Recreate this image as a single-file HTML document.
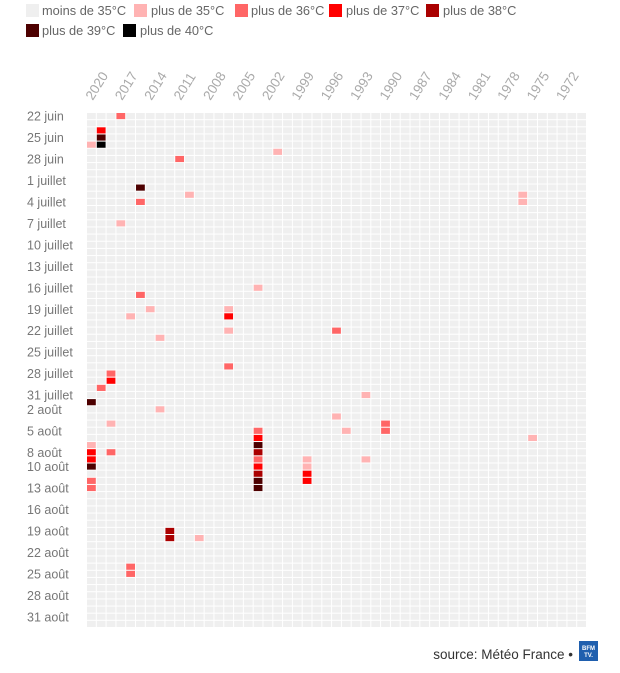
<!DOCTYPE html>
<html><head><meta charset="utf-8"><style>
body{margin:0;background:#fff;width:620px;height:673px;overflow:hidden}
svg{display:block;font-family:"Liberation Sans",sans-serif}
.lg{font-size:12.8px;fill:#666}
.yl{font-size:12.5px;fill:#777}
.xl{font-size:13.5px;fill:#aaa}
</style></head><body>
<svg id="s" width="620" height="673" viewBox="0 0 620 673">
<rect x="26" y="4" width="13" height="13" fill="#efefef"/><text class="lg" x="42" y="15">moins de 35°C</text>
<rect x="134" y="4" width="13" height="13" fill="#ffb3b3"/><text class="lg" x="151" y="15">plus de 35°C</text>
<rect x="235" y="4" width="13" height="13" fill="#ff6666"/><text class="lg" x="251" y="15">plus de 36°C</text>
<rect x="329" y="4" width="13" height="13" fill="#ff0000"/><text class="lg" x="346" y="15">plus de 37°C</text>
<rect x="426" y="4" width="13" height="13" fill="#aa0000"/><text class="lg" x="443" y="15">plus de 38°C</text>
<rect x="26" y="24" width="13" height="13" fill="#4d0000"/><text class="lg" x="42" y="35">plus de 39°C</text>
<rect x="123" y="24" width="13" height="13" fill="#000"/><text class="lg" x="140" y="35">plus de 40°C</text>
<g id="g"></g>
<g class="yl">
<text x="27" y="120.7">22 juin</text><text x="27" y="142.2">25 juin</text><text x="27" y="163.6">28 juin</text>
<text x="27" y="185.1">1 juillet</text><text x="27" y="206.5">4 juillet</text><text x="27" y="228">7 juillet</text>
<text x="27" y="249.4">10 juillet</text><text x="27" y="270.9">13 juillet</text><text x="27" y="292.3">16 juillet</text>
<text x="27" y="313.8">19 juillet</text><text x="27" y="335.2">22 juillet</text><text x="27" y="356.7">25 juillet</text>
<text x="27" y="378.1">28 juillet</text><text x="27" y="399.6">31 juillet</text><text x="27" y="413.9">2 août</text>
<text x="27" y="435.4">5 août</text><text x="27" y="456.8">8 août</text><text x="27" y="471.1">10 août</text>
<text x="27" y="492.6">13 août</text><text x="27" y="514">16 août</text><text x="27" y="535.5">19 août</text>
<text x="27" y="556.9">22 août</text><text x="27" y="578.4">25 août</text><text x="27" y="599.8">28 août</text>
<text x="27" y="621.3">31 août</text>
</g>
<g class="xl" id="xl"></g>
<text x="573" y="659" text-anchor="end" style="font-size:13.5px;fill:#333">source: Météo France •</text>
<rect x="579" y="641" width="19" height="20" fill="#1f5fae"/>
<text x="588.5" y="650" text-anchor="middle" style="font-size:6px;fill:#fff;font-weight:bold">BFM</text>
<text x="588.5" y="657" text-anchor="middle" style="font-size:6px;fill:#fff;font-weight:bold">TV.</text>
</svg>
<script>
var C={5:"#ffb3b3",6:"#ff6666",7:"#ff0000",8:"#aa0000",9:"#4d0000",0:"#000000"};
var d=[[3,0,6],[1,2,7],[1,3,9],[1,4,0],[0,4,5],[19,5,5],[9,6,6],[5,10,9],[10,11,5],[5,12,6],[44,11,5],[44,12,5],[3,15,5],
[17,24,5],[5,25,6],[6,27,5],[14,27,5],[4,28,5],[14,28,7],[14,30,5],[7,31,5],[14,35,6],[25,30,6],[28,39,5],
[2,36,6],[2,37,7],[1,38,6],[0,40,9],[7,41,5],
[2,43,5],[0,46,5],[0,47,7],[2,47,6],[0,48,7],[0,49,9],[0,51,6],[0,52,6],
[17,44,6],[17,45,7],[17,46,9],[17,47,8],[17,48,6],[17,49,7],[17,50,8],[17,51,9],[17,52,9],
[8,58,8],[8,59,8],[11,59,5],[4,63,6],[4,64,6],
[25,42,5],[30,43,6],[30,44,6],[26,44,5],[45,45,5],[22,48,5],[22,49,5],[22,50,7],[22,51,7],[28,48,5]];
var m={};d.forEach(function(a){m[a[0]+","+a[1]]=C[a[2]];});
var h="",pw=500/51,ph=515/72;
for(var c=0;c<51;c++)for(var r=0;r<72;r++){
var x=87+c*pw,y=113+r*ph;
h+='<rect x="'+x.toFixed(2)+'" y="'+y.toFixed(2)+'" width="'+(pw-1).toFixed(2)+'" height="'+(ph-1).toFixed(2)+'" fill="'+(m[c+","+r]||"#efefef")+'"/>';}
document.getElementById("g").innerHTML=h;
var t="";
for(var i=0;i<17;i++){var cx=87+(1+3*i+0.5)*pw;
t+='<text transform="translate('+(cx-9).toFixed(1)+',101) rotate(-58)">'+(2020-3*i)+'</text>';}
document.getElementById("xl").innerHTML=t;
</script>
</body></html>
